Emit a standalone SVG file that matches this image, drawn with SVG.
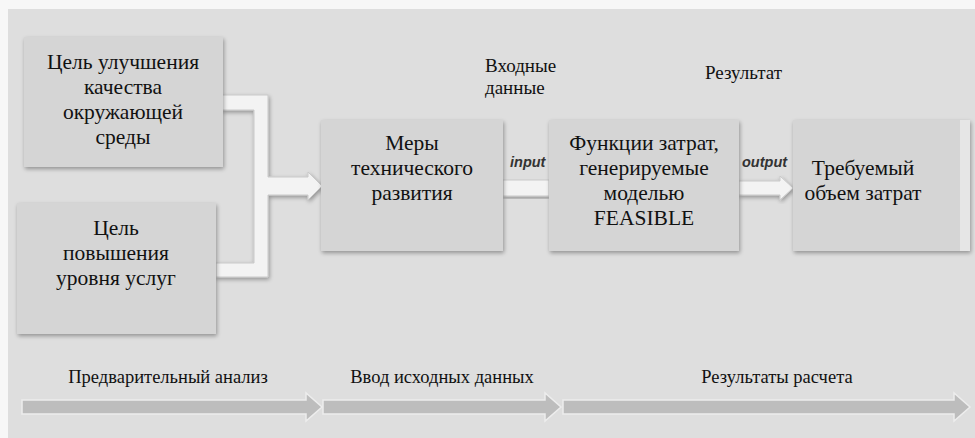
<svg xmlns="http://www.w3.org/2000/svg" width="975" height="438" viewBox="0 0 975 438">
<defs>
<filter id="sh" x="-10%" y="-10%" width="125%" height="125%">
<feGaussianBlur in="SourceAlpha" stdDeviation="2"/>
<feOffset dx="1" dy="2" result="b"/>
<feComponentTransfer><feFuncA type="linear" slope="0.35"/></feComponentTransfer>
<feMerge><feMergeNode/><feMergeNode in="SourceGraphic"/></feMerge>
</filter>
<style>
.box{fill:#d5d5d5;}
.t{font-family:'Liberation Serif','Times New Roman',serif;font-size:21.5px;fill:#111;text-anchor:middle;}
.s{font-family:'Liberation Serif','Times New Roman',serif;font-size:19px;fill:#111;}
.b{font-family:'Liberation Serif','Times New Roman',serif;font-size:18.5px;fill:#111;text-anchor:middle;}
.io{font-family:'Liberation Sans',Arial,sans-serif;font-size:14.5px;font-style:italic;font-weight:bold;fill:#333;}
.wa{fill:#f3f3f3;stroke:#c9c9c9;stroke-width:1;}
.ga{fill:#bdbdbd;stroke:#ededed;stroke-width:1.5;}
</style>
</defs>
<rect x="0" y="0" width="975" height="438" fill="#f7f7f7"/>
<rect x="8" y="9" width="967" height="429" fill="#dedede"/>

<g id="connectors">
<path class="wa" filter="url(#sh)" d="M222,95 H268 V177 H308 V172 L322,186 L308,200 V195 H268 V277 H216 V263 H254 V110 H222 Z"/>
<path class="wa" filter="url(#sh)" d="M503,180 H549 V196 H503 Z"/>
<path class="wa" filter="url(#sh)" d="M739,181 H780 V176 L793,188 L780,200 V195 H739 Z"/>
<path class="ga" d="M22,400 H306 V393 L322,407 L306,421 V414 H22 Z"/>
<path class="ga" d="M323,400 H545 V393 L561,407 L545,421 V414 H323 Z"/>
<path class="ga" d="M563,400 H954 V393 L970,407 L954,421 V414 H563 Z"/>
</g>

<g id="goal-env">
<rect class="box" x="24" y="37" width="199" height="130" filter="url(#sh)"/>
<text class="t" x="123" y="69">Цель улучшения</text>
<text class="t" x="123" y="94">качества</text>
<text class="t" x="123" y="119">окружающей</text>
<text class="t" x="123" y="144">среды</text>
</g>

<g id="goal-service">
<rect class="box" x="17" y="203" width="199" height="131" filter="url(#sh)"/>
<text class="t" x="116" y="235">Цель</text>
<text class="t" x="116" y="260">повышения</text>
<text class="t" x="116" y="285">уровня услуг</text>
</g>

<g id="measures">
<rect class="box" x="321" y="120" width="182" height="131" filter="url(#sh)"/>
<text class="t" x="412" y="150">Меры</text>
<text class="t" x="412" y="175">технического</text>
<text class="t" x="412" y="200">развития</text>
</g>

<g id="functions">
<rect class="box" x="549" y="120" width="190" height="131" filter="url(#sh)"/>
<text class="t" x="644" y="150">Функции затрат,</text>
<text class="t" x="644" y="175">генерируемые</text>
<text class="t" x="644" y="200">моделью</text>
<text class="t" x="644" y="225">FEASIBLE</text>
</g>

<g id="result">
<rect x="793" y="120" width="177" height="131" fill="#e6e6e6" filter="url(#sh)"/>
<rect class="box" x="793" y="120" width="167" height="131"/>
<text class="t" x="863" y="175">Требуемый</text>
<text class="t" x="863" y="200">объем затрат</text>
</g>

<g id="labels">
<text class="s" x="485" y="72">Входные</text>
<text class="s" x="485" y="94">данные</text>
<text class="s" x="705" y="79">Результат</text>
<text class="io" x="510" y="167">input</text>
<text class="io" x="742" y="167">output</text>
<text class="b" x="168" y="383">Предварительный анализ</text>
<text class="b" x="442" y="383">Ввод исходных данных</text>
<text class="b" x="777" y="383">Результаты расчета</text>
</g>
</svg>
